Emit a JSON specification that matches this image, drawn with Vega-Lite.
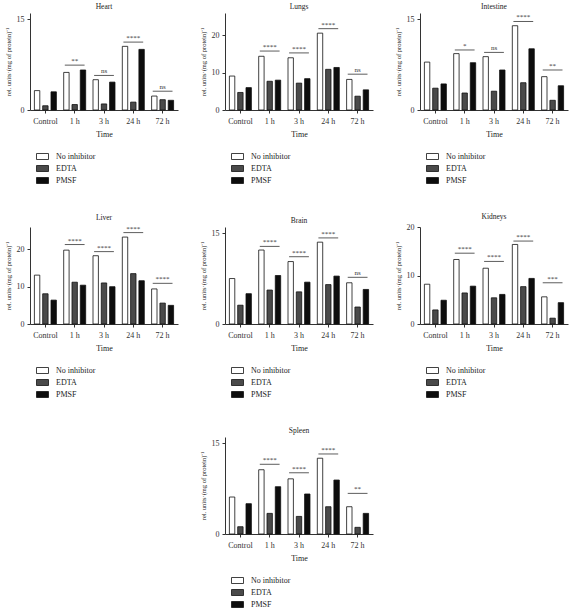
{
  "$schema": "https://vega.github.io/schema/vega-lite/v6.json",
  "padding": {"left": 5, "top": 2, "right": 2, "bottom": 0},
  "background": "white",
  "config": {
    "font": "Liberation Serif",
    "view": {"stroke": null},
    "title": {"fontSize": 7.5, "fontWeight": "normal", "font": "Liberation Serif", "color": "#222", "offset": 3},
    "axis": {"domainColor": "#333", "tickColor": "#333", "labelColor": "#333", "titleColor": "#222", "grid": false, "labelFont": "Liberation Serif", "titleFont": "Liberation Serif", "titleFontWeight": "normal", "tickSize": 3, "labelOverlap": false, "labelBound": false, "labelFlush": false},
    "axisX": {"labelAngle": 0, "labelFontSize": 8, "titleFontSize": 8, "titlePadding": 5, "labelPadding": 4},
    "axisY": {"labelFontSize": 8, "titleFontSize": 6.5, "titlePadding": 5, "labelPadding": 3},
    "legend": {"orient": "bottom", "direction": "vertical", "offset": 12, "labelFont": "Liberation Serif", "labelFontSize": 8, "labelColor": "#222", "symbolType": "M-1,-0.5H1V0.5H-1Z", "symbolSize": 144, "symbolStrokeColor": "#111", "symbolStrokeWidth": 0.8, "symbolOffset": 6, "rowPadding": 0, "labelOffset": 7, "padding": 0}
  },
  "datasets": {
    "bars": [
      {"organ":"Heart","time":"Control","group":"No inhibitor","value":3.2},{"organ":"Heart","time":"Control","group":"EDTA","value":0.7},{"organ":"Heart","time":"Control","group":"PMSF","value":3.0},
      {"organ":"Heart","time":"1 h","group":"No inhibitor","value":6.2},{"organ":"Heart","time":"1 h","group":"EDTA","value":0.9},{"organ":"Heart","time":"1 h","group":"PMSF","value":6.6},
      {"organ":"Heart","time":"3 h","group":"No inhibitor","value":5.0},{"organ":"Heart","time":"3 h","group":"EDTA","value":1.0},{"organ":"Heart","time":"3 h","group":"PMSF","value":4.6},
      {"organ":"Heart","time":"24 h","group":"No inhibitor","value":10.5},{"organ":"Heart","time":"24 h","group":"EDTA","value":1.3},{"organ":"Heart","time":"24 h","group":"PMSF","value":10.0},
      {"organ":"Heart","time":"72 h","group":"No inhibitor","value":2.3},{"organ":"Heart","time":"72 h","group":"EDTA","value":1.7},{"organ":"Heart","time":"72 h","group":"PMSF","value":1.6},

      {"organ":"Lungs","time":"Control","group":"No inhibitor","value":9.1},{"organ":"Lungs","time":"Control","group":"EDTA","value":4.7},{"organ":"Lungs","time":"Control","group":"PMSF","value":6.0},
      {"organ":"Lungs","time":"1 h","group":"No inhibitor","value":14.4},{"organ":"Lungs","time":"1 h","group":"EDTA","value":7.7},{"organ":"Lungs","time":"1 h","group":"PMSF","value":8.0},
      {"organ":"Lungs","time":"3 h","group":"No inhibitor","value":14.0},{"organ":"Lungs","time":"3 h","group":"EDTA","value":7.2},{"organ":"Lungs","time":"3 h","group":"PMSF","value":8.4},
      {"organ":"Lungs","time":"24 h","group":"No inhibitor","value":20.6},{"organ":"Lungs","time":"24 h","group":"EDTA","value":10.9},{"organ":"Lungs","time":"24 h","group":"PMSF","value":11.4},
      {"organ":"Lungs","time":"72 h","group":"No inhibitor","value":8.2},{"organ":"Lungs","time":"72 h","group":"EDTA","value":3.7},{"organ":"Lungs","time":"72 h","group":"PMSF","value":5.4},

      {"organ":"Intestine","time":"Control","group":"No inhibitor","value":7.9},{"organ":"Intestine","time":"Control","group":"EDTA","value":3.6},{"organ":"Intestine","time":"Control","group":"PMSF","value":4.3},
      {"organ":"Intestine","time":"1 h","group":"No inhibitor","value":9.3},{"organ":"Intestine","time":"1 h","group":"EDTA","value":2.8},{"organ":"Intestine","time":"1 h","group":"PMSF","value":7.8},
      {"organ":"Intestine","time":"3 h","group":"No inhibitor","value":8.8},{"organ":"Intestine","time":"3 h","group":"EDTA","value":3.1},{"organ":"Intestine","time":"3 h","group":"PMSF","value":6.6},
      {"organ":"Intestine","time":"24 h","group":"No inhibitor","value":13.9},{"organ":"Intestine","time":"24 h","group":"EDTA","value":4.5},{"organ":"Intestine","time":"24 h","group":"PMSF","value":10.1},
      {"organ":"Intestine","time":"72 h","group":"No inhibitor","value":5.5},{"organ":"Intestine","time":"72 h","group":"EDTA","value":1.6},{"organ":"Intestine","time":"72 h","group":"PMSF","value":4.0},

      {"organ":"Liver","time":"Control","group":"No inhibitor","value":13.1},{"organ":"Liver","time":"Control","group":"EDTA","value":8.1},{"organ":"Liver","time":"Control","group":"PMSF","value":6.4},
      {"organ":"Liver","time":"1 h","group":"No inhibitor","value":19.8},{"organ":"Liver","time":"1 h","group":"EDTA","value":11.2},{"organ":"Liver","time":"1 h","group":"PMSF","value":10.4},
      {"organ":"Liver","time":"3 h","group":"No inhibitor","value":18.3},{"organ":"Liver","time":"3 h","group":"EDTA","value":11.0},{"organ":"Liver","time":"3 h","group":"PMSF","value":10.0},
      {"organ":"Liver","time":"24 h","group":"No inhibitor","value":23.3},{"organ":"Liver","time":"24 h","group":"EDTA","value":13.5},{"organ":"Liver","time":"24 h","group":"PMSF","value":11.6},
      {"organ":"Liver","time":"72 h","group":"No inhibitor","value":9.4},{"organ":"Liver","time":"72 h","group":"EDTA","value":5.6},{"organ":"Liver","time":"72 h","group":"PMSF","value":5.0},

      {"organ":"Brain","time":"Control","group":"No inhibitor","value":7.5},{"organ":"Brain","time":"Control","group":"EDTA","value":3.1},{"organ":"Brain","time":"Control","group":"PMSF","value":5.0},
      {"organ":"Brain","time":"1 h","group":"No inhibitor","value":12.2},{"organ":"Brain","time":"1 h","group":"EDTA","value":5.6},{"organ":"Brain","time":"1 h","group":"PMSF","value":8.0},
      {"organ":"Brain","time":"3 h","group":"No inhibitor","value":10.3},{"organ":"Brain","time":"3 h","group":"EDTA","value":5.3},{"organ":"Brain","time":"3 h","group":"PMSF","value":6.9},
      {"organ":"Brain","time":"24 h","group":"No inhibitor","value":13.5},{"organ":"Brain","time":"24 h","group":"EDTA","value":6.5},{"organ":"Brain","time":"24 h","group":"PMSF","value":7.9},
      {"organ":"Brain","time":"72 h","group":"No inhibitor","value":6.8},{"organ":"Brain","time":"72 h","group":"EDTA","value":2.8},{"organ":"Brain","time":"72 h","group":"PMSF","value":5.7},

      {"organ":"Kidneys","time":"Control","group":"No inhibitor","value":8.2},{"organ":"Kidneys","time":"Control","group":"EDTA","value":2.9},{"organ":"Kidneys","time":"Control","group":"PMSF","value":4.9},
      {"organ":"Kidneys","time":"1 h","group":"No inhibitor","value":13.3},{"organ":"Kidneys","time":"1 h","group":"EDTA","value":6.4},{"organ":"Kidneys","time":"1 h","group":"PMSF","value":7.8},
      {"organ":"Kidneys","time":"3 h","group":"No inhibitor","value":11.5},{"organ":"Kidneys","time":"3 h","group":"EDTA","value":5.4},{"organ":"Kidneys","time":"3 h","group":"PMSF","value":6.1},
      {"organ":"Kidneys","time":"24 h","group":"No inhibitor","value":16.4},{"organ":"Kidneys","time":"24 h","group":"EDTA","value":7.7},{"organ":"Kidneys","time":"24 h","group":"PMSF","value":9.4},
      {"organ":"Kidneys","time":"72 h","group":"No inhibitor","value":5.6},{"organ":"Kidneys","time":"72 h","group":"EDTA","value":1.2},{"organ":"Kidneys","time":"72 h","group":"PMSF","value":4.4},

      {"organ":"Spleen","time":"Control","group":"No inhibitor","value":6.1},{"organ":"Spleen","time":"Control","group":"EDTA","value":1.2},{"organ":"Spleen","time":"Control","group":"PMSF","value":5.0},
      {"organ":"Spleen","time":"1 h","group":"No inhibitor","value":10.6},{"organ":"Spleen","time":"1 h","group":"EDTA","value":3.4},{"organ":"Spleen","time":"1 h","group":"PMSF","value":7.8},
      {"organ":"Spleen","time":"3 h","group":"No inhibitor","value":9.1},{"organ":"Spleen","time":"3 h","group":"EDTA","value":2.9},{"organ":"Spleen","time":"3 h","group":"PMSF","value":6.6},
      {"organ":"Spleen","time":"24 h","group":"No inhibitor","value":12.5},{"organ":"Spleen","time":"24 h","group":"EDTA","value":4.5},{"organ":"Spleen","time":"24 h","group":"PMSF","value":8.9},
      {"organ":"Spleen","time":"72 h","group":"No inhibitor","value":4.5},{"organ":"Spleen","time":"72 h","group":"EDTA","value":1.1},{"organ":"Spleen","time":"72 h","group":"PMSF","value":3.4}
    ],
    "sig": [
      {"organ":"Heart","time":"1 h","y":7.4,"label":"**"},{"organ":"Heart","time":"3 h","y":5.7,"label":"ns"},{"organ":"Heart","time":"24 h","y":11.2,"label":"****"},{"organ":"Heart","time":"72 h","y":3.1,"label":"ns"},
      {"organ":"Lungs","time":"1 h","y":15.8,"label":"****"},{"organ":"Lungs","time":"3 h","y":15.3,"label":"****"},{"organ":"Lungs","time":"24 h","y":21.8,"label":"****"},{"organ":"Lungs","time":"72 h","y":9.6,"label":"ns"},
      {"organ":"Intestine","time":"1 h","y":9.9,"label":"*"},{"organ":"Intestine","time":"3 h","y":9.5,"label":"ns"},{"organ":"Intestine","time":"24 h","y":14.6,"label":"****"},{"organ":"Intestine","time":"72 h","y":6.6,"label":"**"},
      {"organ":"Liver","time":"1 h","y":21.3,"label":"****"},{"organ":"Liver","time":"3 h","y":19.4,"label":"****"},{"organ":"Liver","time":"24 h","y":24.5,"label":"****"},{"organ":"Liver","time":"72 h","y":10.9,"label":"****"},
      {"organ":"Brain","time":"1 h","y":12.8,"label":"****"},{"organ":"Brain","time":"3 h","y":11.1,"label":"****"},{"organ":"Brain","time":"24 h","y":14.2,"label":"****"},{"organ":"Brain","time":"72 h","y":7.7,"label":"ns"},
      {"organ":"Kidneys","time":"1 h","y":14.6,"label":"****"},{"organ":"Kidneys","time":"3 h","y":12.9,"label":"****"},{"organ":"Kidneys","time":"24 h","y":17.1,"label":"****"},{"organ":"Kidneys","time":"72 h","y":8.5,"label":"***"},
      {"organ":"Spleen","time":"1 h","y":11.5,"label":"****"},{"organ":"Spleen","time":"3 h","y":10.1,"label":"****"},{"organ":"Spleen","time":"24 h","y":13.2,"label":"****"},{"organ":"Spleen","time":"72 h","y":6.7,"label":"**"}
    ]
  },
  "resolve": {"scale": {"color": "independent"}, "legend": {"color": "independent"}},
  "spacing": 26,
  "center": true,
  "vconcat": [
    {
      "hconcat": [
        {"title": "Heart", "width": 148, "height": 97, "layer": [
          {"data": {"name": "bars"}, "transform": [{"filter": "datum.organ === 'Heart'"}], "mark": {"type": "bar", "stroke": "#111", "strokeWidth": 0.8},
           "encoding": {"x": {"field": "time", "type": "nominal", "sort": ["Control","1 h","3 h","24 h","72 h"], "title": "Time", "scale": {"paddingInner": 0.25, "paddingOuter": 0.15}},
            "xOffset": {"field": "group", "sort": ["No inhibitor","EDTA","PMSF"], "scale": {"paddingInner": 0.35}},
            "y": {"field": "value", "type": "quantitative", "scale": {"domain": [0, 15]}, "axis": {"values": [0,5,10,15], "labelOverlap": false}, "title": "rel. units·(mg of protein)⁻¹"},
            "color": {"field": "group", "type": "nominal", "sort": ["No inhibitor","EDTA","PMSF"], "scale": {"domain": ["No inhibitor","EDTA","PMSF"], "range": ["#ffffff","#4a4a4a","#0d0d0d"]}, "title": null}}},
          {"data": {"name": "sig"}, "transform": [{"filter": "datum.organ === 'Heart'"}], "mark": {"type": "rule", "color": "#333", "strokeWidth": 0.8},
           "encoding": {"x": {"field": "time", "type": "nominal", "sort": ["Control","1 h","3 h","24 h","72 h"], "bandPosition": 0.05}, "x2": {"field": "time", "bandPosition": 0.95}, "y": {"field": "y", "type": "quantitative"}}},
          {"data": {"name": "sig"}, "transform": [{"filter": "datum.organ === 'Heart'"}], "mark": {"type": "text", "dy": -4, "fontSize": 7, "color": "#333"},
           "encoding": {"x": {"field": "time", "type": "nominal", "sort": ["Control","1 h","3 h","24 h","72 h"]}, "y": {"field": "y", "type": "quantitative"}, "text": {"field": "label"}}}
        ]},
        {"title": "Lungs", "width": 148, "height": 97, "layer": [
          {"data": {"name": "bars"}, "transform": [{"filter": "datum.organ === 'Lungs'"}], "mark": {"type": "bar", "stroke": "#111", "strokeWidth": 0.8},
           "encoding": {"x": {"field": "time", "type": "nominal", "sort": ["Control","1 h","3 h","24 h","72 h"], "title": "Time", "scale": {"paddingInner": 0.25, "paddingOuter": 0.15}},
            "xOffset": {"field": "group", "sort": ["No inhibitor","EDTA","PMSF"], "scale": {"paddingInner": 0.35}},
            "y": {"field": "value", "type": "quantitative", "scale": {"domain": [0, 25]}, "axis": {"values": [0,5,10,15,20,25], "labelOverlap": false}, "title": "rel. units·(mg of protein)⁻¹"},
            "color": {"field": "group", "type": "nominal", "sort": ["No inhibitor","EDTA","PMSF"], "scale": {"domain": ["No inhibitor","EDTA","PMSF"], "range": ["#ffffff","#4a4a4a","#0d0d0d"]}, "title": null}}},
          {"data": {"name": "sig"}, "transform": [{"filter": "datum.organ === 'Lungs'"}], "mark": {"type": "rule", "color": "#333", "strokeWidth": 0.8},
           "encoding": {"x": {"field": "time", "type": "nominal", "sort": ["Control","1 h","3 h","24 h","72 h"], "bandPosition": 0.05}, "x2": {"field": "time", "bandPosition": 0.95}, "y": {"field": "y", "type": "quantitative"}}},
          {"data": {"name": "sig"}, "transform": [{"filter": "datum.organ === 'Lungs'"}], "mark": {"type": "text", "dy": -4, "fontSize": 7, "color": "#333"},
           "encoding": {"x": {"field": "time", "type": "nominal", "sort": ["Control","1 h","3 h","24 h","72 h"]}, "y": {"field": "y", "type": "quantitative"}, "text": {"field": "label"}}}
        ]},
        {"title": "Intestine", "width": 148, "height": 97, "layer": [
          {"data": {"name": "bars"}, "transform": [{"filter": "datum.organ === 'Intestine'"}], "mark": {"type": "bar", "stroke": "#111", "strokeWidth": 0.8},
           "encoding": {"x": {"field": "time", "type": "nominal", "sort": ["Control","1 h","3 h","24 h","72 h"], "title": "Time", "scale": {"paddingInner": 0.25, "paddingOuter": 0.15}},
            "xOffset": {"field": "group", "sort": ["No inhibitor","EDTA","PMSF"], "scale": {"paddingInner": 0.35}},
            "y": {"field": "value", "type": "quantitative", "scale": {"domain": [0, 15]}, "axis": {"values": [0,5,10,15], "labelOverlap": false}, "title": "rel. units·(mg of protein)⁻¹"},
            "color": {"field": "group", "type": "nominal", "sort": ["No inhibitor","EDTA","PMSF"], "scale": {"domain": ["No inhibitor","EDTA","PMSF"], "range": ["#ffffff","#4a4a4a","#0d0d0d"]}, "title": null}}},
          {"data": {"name": "sig"}, "transform": [{"filter": "datum.organ === 'Intestine'"}], "mark": {"type": "rule", "color": "#333", "strokeWidth": 0.8},
           "encoding": {"x": {"field": "time", "type": "nominal", "sort": ["Control","1 h","3 h","24 h","72 h"], "bandPosition": 0.05}, "x2": {"field": "time", "bandPosition": 0.95}, "y": {"field": "y", "type": "quantitative"}}},
          {"data": {"name": "sig"}, "transform": [{"filter": "datum.organ === 'Intestine'"}], "mark": {"type": "text", "dy": -4, "fontSize": 7, "color": "#333"},
           "encoding": {"x": {"field": "time", "type": "nominal", "sort": ["Control","1 h","3 h","24 h","72 h"]}, "y": {"field": "y", "type": "quantitative"}, "text": {"field": "label"}}}
        ]}
      ],
      "spacing": 22,
      "resolve": {"scale": {"color": "independent"}, "legend": {"color": "independent"}}
    },
    {
      "hconcat": [
        {"title": "Liver", "width": 148, "height": 97, "layer": [
          {"data": {"name": "bars"}, "transform": [{"filter": "datum.organ === 'Liver'"}], "mark": {"type": "bar", "stroke": "#111", "strokeWidth": 0.8},
           "encoding": {"x": {"field": "time", "type": "nominal", "sort": ["Control","1 h","3 h","24 h","72 h"], "title": "Time", "scale": {"paddingInner": 0.25, "paddingOuter": 0.15}},
            "xOffset": {"field": "group", "sort": ["No inhibitor","EDTA","PMSF"], "scale": {"paddingInner": 0.35}},
            "y": {"field": "value", "type": "quantitative", "scale": {"domain": [0, 25]}, "axis": {"values": [0,5,10,15,20,25], "labelOverlap": false}, "title": "rel. units·(mg of protein)⁻¹"},
            "color": {"field": "group", "type": "nominal", "sort": ["No inhibitor","EDTA","PMSF"], "scale": {"domain": ["No inhibitor","EDTA","PMSF"], "range": ["#ffffff","#4a4a4a","#0d0d0d"]}, "title": null}}},
          {"data": {"name": "sig"}, "transform": [{"filter": "datum.organ === 'Liver'"}], "mark": {"type": "rule", "color": "#333", "strokeWidth": 0.8},
           "encoding": {"x": {"field": "time", "type": "nominal", "sort": ["Control","1 h","3 h","24 h","72 h"], "bandPosition": 0.05}, "x2": {"field": "time", "bandPosition": 0.95}, "y": {"field": "y", "type": "quantitative"}}},
          {"data": {"name": "sig"}, "transform": [{"filter": "datum.organ === 'Liver'"}], "mark": {"type": "text", "dy": -4, "fontSize": 7, "color": "#333"},
           "encoding": {"x": {"field": "time", "type": "nominal", "sort": ["Control","1 h","3 h","24 h","72 h"]}, "y": {"field": "y", "type": "quantitative"}, "text": {"field": "label"}}}
        ]},
        {"title": "Brain", "width": 148, "height": 97, "layer": [
          {"data": {"name": "bars"}, "transform": [{"filter": "datum.organ === 'Brain'"}], "mark": {"type": "bar", "stroke": "#111", "strokeWidth": 0.8},
           "encoding": {"x": {"field": "time", "type": "nominal", "sort": ["Control","1 h","3 h","24 h","72 h"], "title": "Time", "scale": {"paddingInner": 0.25, "paddingOuter": 0.15}},
            "xOffset": {"field": "group", "sort": ["No inhibitor","EDTA","PMSF"], "scale": {"paddingInner": 0.35}},
            "y": {"field": "value", "type": "quantitative", "scale": {"domain": [0, 15]}, "axis": {"values": [0,5,10,15], "labelOverlap": false}, "title": "rel. units·(mg of protein)⁻¹"},
            "color": {"field": "group", "type": "nominal", "sort": ["No inhibitor","EDTA","PMSF"], "scale": {"domain": ["No inhibitor","EDTA","PMSF"], "range": ["#ffffff","#4a4a4a","#0d0d0d"]}, "title": null}}},
          {"data": {"name": "sig"}, "transform": [{"filter": "datum.organ === 'Brain'"}], "mark": {"type": "rule", "color": "#333", "strokeWidth": 0.8},
           "encoding": {"x": {"field": "time", "type": "nominal", "sort": ["Control","1 h","3 h","24 h","72 h"], "bandPosition": 0.05}, "x2": {"field": "time", "bandPosition": 0.95}, "y": {"field": "y", "type": "quantitative"}}},
          {"data": {"name": "sig"}, "transform": [{"filter": "datum.organ === 'Brain'"}], "mark": {"type": "text", "dy": -4, "fontSize": 7, "color": "#333"},
           "encoding": {"x": {"field": "time", "type": "nominal", "sort": ["Control","1 h","3 h","24 h","72 h"]}, "y": {"field": "y", "type": "quantitative"}, "text": {"field": "label"}}}
        ]},
        {"title": "Kidneys", "width": 148, "height": 97, "layer": [
          {"data": {"name": "bars"}, "transform": [{"filter": "datum.organ === 'Kidneys'"}], "mark": {"type": "bar", "stroke": "#111", "strokeWidth": 0.8},
           "encoding": {"x": {"field": "time", "type": "nominal", "sort": ["Control","1 h","3 h","24 h","72 h"], "title": "Time", "scale": {"paddingInner": 0.25, "paddingOuter": 0.15}},
            "xOffset": {"field": "group", "sort": ["No inhibitor","EDTA","PMSF"], "scale": {"paddingInner": 0.35}},
            "y": {"field": "value", "type": "quantitative", "scale": {"domain": [0, 20]}, "axis": {"values": [0,5,10,15,20], "labelOverlap": false}, "title": "rel. units·(mg of protein)⁻¹"},
            "color": {"field": "group", "type": "nominal", "sort": ["No inhibitor","EDTA","PMSF"], "scale": {"domain": ["No inhibitor","EDTA","PMSF"], "range": ["#ffffff","#4a4a4a","#0d0d0d"]}, "title": null}}},
          {"data": {"name": "sig"}, "transform": [{"filter": "datum.organ === 'Kidneys'"}], "mark": {"type": "rule", "color": "#333", "strokeWidth": 0.8},
           "encoding": {"x": {"field": "time", "type": "nominal", "sort": ["Control","1 h","3 h","24 h","72 h"], "bandPosition": 0.05}, "x2": {"field": "time", "bandPosition": 0.95}, "y": {"field": "y", "type": "quantitative"}}},
          {"data": {"name": "sig"}, "transform": [{"filter": "datum.organ === 'Kidneys'"}], "mark": {"type": "text", "dy": -4, "fontSize": 7, "color": "#333"},
           "encoding": {"x": {"field": "time", "type": "nominal", "sort": ["Control","1 h","3 h","24 h","72 h"]}, "y": {"field": "y", "type": "quantitative"}, "text": {"field": "label"}}}
        ]}
      ],
      "spacing": 22,
      "resolve": {"scale": {"color": "independent"}, "legend": {"color": "independent"}}
    },
    {"title": "Spleen", "width": 148, "height": 97, "layer": [
      {"data": {"name": "bars"}, "transform": [{"filter": "datum.organ === 'Spleen'"}], "mark": {"type": "bar", "stroke": "#111", "strokeWidth": 0.8},
       "encoding": {"x": {"field": "time", "type": "nominal", "sort": ["Control","1 h","3 h","24 h","72 h"], "title": "Time", "scale": {"paddingInner": 0.25, "paddingOuter": 0.15}},
        "xOffset": {"field": "group", "sort": ["No inhibitor","EDTA","PMSF"], "scale": {"paddingInner": 0.35}},
        "y": {"field": "value", "type": "quantitative", "scale": {"domain": [0, 15]}, "axis": {"values": [0,5,10,15], "labelOverlap": false}, "title": "rel. units·(mg of protein)⁻¹"},
        "color": {"field": "group", "type": "nominal", "sort": ["No inhibitor","EDTA","PMSF"], "scale": {"domain": ["No inhibitor","EDTA","PMSF"], "range": ["#ffffff","#4a4a4a","#0d0d0d"]}, "title": null}}},
      {"data": {"name": "sig"}, "transform": [{"filter": "datum.organ === 'Spleen'"}], "mark": {"type": "rule", "color": "#333", "strokeWidth": 0.8},
       "encoding": {"x": {"field": "time", "type": "nominal", "sort": ["Control","1 h","3 h","24 h","72 h"], "bandPosition": 0.05}, "x2": {"field": "time", "bandPosition": 0.95}, "y": {"field": "y", "type": "quantitative"}}},
      {"data": {"name": "sig"}, "transform": [{"filter": "datum.organ === 'Spleen'"}], "mark": {"type": "text", "dy": -4, "fontSize": 7, "color": "#333"},
       "encoding": {"x": {"field": "time", "type": "nominal", "sort": ["Control","1 h","3 h","24 h","72 h"]}, "y": {"field": "y", "type": "quantitative"}, "text": {"field": "label"}}}
    ]}
  ]
}
